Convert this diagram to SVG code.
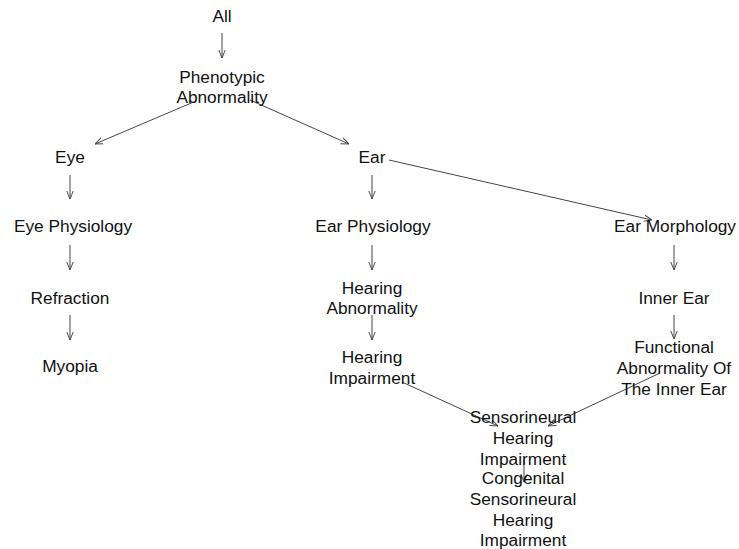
<svg xmlns="http://www.w3.org/2000/svg" width="739" height="549" viewBox="0 0 739 549">
  <style>
    text { font-family: "Liberation Sans", Arial, sans-serif; font-size: 17.3px; fill: #111; text-anchor: middle; }
    .edge { stroke: #444; stroke-width: 1; fill: none; marker-end: url(#arrow); }
  </style>
  <defs>
    <marker id="arrow" viewBox="0 0 10 10" refX="10" refY="5" markerWidth="8" markerHeight="8" markerUnits="userSpaceOnUse" orient="auto">
      <path d="M0,1 L10,5 L0,9" fill="none" stroke="#444" stroke-width="1.2"/>
    </marker>
  </defs>
  <rect width="739" height="549" fill="#fff"/>

  <g id="edges">
    <line class="edge" x1="222" y1="33" x2="222" y2="58"/>
    <line class="edge" x1="196" y1="101" x2="95" y2="144"/>
    <line class="edge" x1="250" y1="100" x2="349" y2="144"/>
    <line class="edge" x1="389" y1="160" x2="652" y2="220"/>
    <line class="edge" x1="70" y1="175" x2="70" y2="199"/>
    <line class="edge" x1="372" y1="175" x2="372" y2="199"/>
    <line class="edge" x1="70" y1="245" x2="70" y2="270"/>
    <line class="edge" x1="372" y1="245" x2="372" y2="270"/>
    <line class="edge" x1="674" y1="245" x2="674" y2="270"/>
    <line class="edge" x1="70" y1="315" x2="70" y2="340"/>
    <line class="edge" x1="372" y1="315" x2="372" y2="340"/>
    <line class="edge" x1="674" y1="315" x2="674" y2="339"/>
    <line class="edge" x1="402" y1="382" x2="498" y2="426"/>
    <line class="edge" x1="660" y1="373" x2="548" y2="426"/>
    <line class="edge" x1="524" y1="460" x2="524" y2="482"/>
  </g>

  <g id="all"><text x="222" y="22">All</text></g>
  <g id="phenotypic-abnormality"><text x="222" y="83">Phenotypic</text><text x="222" y="103">Abnormality</text></g>
  <g id="eye"><text x="70" y="163">Eye</text></g>
  <g id="ear"><text x="372" y="163">Ear</text></g>
  <g id="eye-physiology"><text x="73" y="232">Eye Physiology</text></g>
  <g id="ear-physiology"><text x="373" y="232">Ear Physiology</text></g>
  <g id="ear-morphology"><text x="675" y="232">Ear Morphology</text></g>
  <g id="refraction"><text x="70" y="304">Refraction</text></g>
  <g id="hearing-abnormality"><text x="372" y="294">Hearing</text><text x="372" y="314">Abnormality</text></g>
  <g id="inner-ear"><text x="674" y="304">Inner Ear</text></g>
  <g id="myopia"><text x="70" y="372">Myopia</text></g>
  <g id="hearing-impairment"><text x="372" y="363">Hearing</text><text x="372" y="384">Impairment</text></g>
  <g id="functional-abnormality-inner-ear"><text x="674" y="353">Functional</text><text x="674" y="374">Abnormality Of</text><text x="674" y="395">The Inner Ear</text></g>
  <g id="sensorineural-hearing-impairment"><text x="523" y="423">Sensorineural</text><text x="523" y="444">Hearing</text><text x="523" y="465">Impairment</text></g>
  <g id="congenital-sensorineural-hearing-impairment"><text x="523" y="484">Congenital</text><text x="523" y="505">Sensorineural</text><text x="523" y="526">Hearing</text><text x="523" y="546">Impairment</text></g>
</svg>
